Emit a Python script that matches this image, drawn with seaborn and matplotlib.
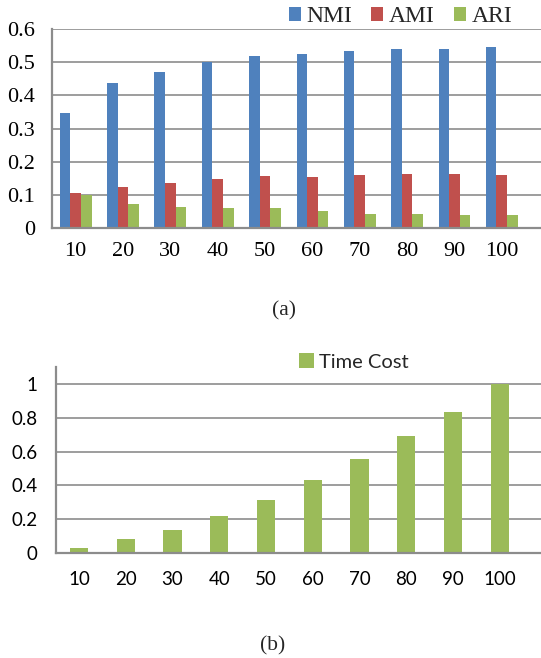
import numpy as np
import pandas as pd
import matplotlib
matplotlib.use('Agg')
import matplotlib.pyplot as plt
import seaborn as sns

# values
sizes = ['10', '20', '30', '40', '50', '60', '70', '80', '90', '100']
nmi = [0.348, 0.436, 0.469, 0.502, 0.520, 0.524, 0.535, 0.541, 0.541, 0.545]
ami = [0.107, 0.123, 0.135, 0.148, 0.156, 0.153, 0.159, 0.163, 0.164, 0.160]
ari = [0.099, 0.072, 0.063, 0.061, 0.059, 0.050, 0.043, 0.043, 0.040, 0.038]
time_cost = [0.031, 0.083, 0.138, 0.220, 0.315, 0.433, 0.557, 0.693, 0.833, 1.0]

metrics = ['NMI', 'AMI', 'ARI']
colors = ['#4F81BD', '#C0504D', '#9BBB59']
grid_col = '#8C8C8C'

df = pd.DataFrame({'size': sizes * 3,
                   'metric': np.repeat(metrics, len(sizes)),
                   'value': nmi + ami + ari})
df_t = pd.DataFrame({'size': sizes, 'Time Cost': time_cost})

sns.set_style('white')
W, H = 541, 658
fig = plt.figure(figsize=(W / 100, H / 100), dpi=100)

def style_axes(ax, fam, size, ypad, xpad):
    ax.grid(axis='y', color=grid_col, linewidth=1.2)
    ax.set_axisbelow(True)
    for s in ['top', 'right']:
        ax.spines[s].set_visible(False)
    for s in ['left', 'bottom']:
        ax.spines[s].set_color(grid_col)
        ax.spines[s].set_linewidth(1.6)
    ax.tick_params(axis='both', length=0, labelsize=size,
                   labelfontfamily=fam, labelcolor='black')
    ax.tick_params(axis='y', pad=ypad)
    ax.tick_params(axis='x', pad=xpad)
    ax.set_xlabel('')
    ax.set_ylabel('')

# (a) quality metrics
ax1 = fig.add_axes([52 / W, 1 - 228 / H, 1 - 52 / W, 199 / H])
sns.barplot(data=df, x='size', y='value', hue='metric', palette=colors,
            width=0.67, gap=0, linewidth=0, saturation=1, ax=ax1)
ax1.set_ylim(0, 0.6)
ax1.set_xlim(-0.5, 9.83)
ax1.set_yticks([0, 0.1, 0.2, 0.3, 0.4, 0.5, 0.6])
ax1.set_yticklabels(['0', '0.1', '0.2', '0.3', '0.4', '0.5', '0.6'])
style_axes(ax1, 'Liberation Serif', 16, 12, 10)
h, l = ax1.get_legend_handles_labels()
ax1.legend(h, l, loc='center left', bbox_to_anchor=(289 / W, 1 - 17 / H),
           bbox_transform=fig.transFigure, ncol=3, frameon=False,
           prop={'family': 'Liberation Serif', 'size': 17},
           handlelength=0.5, handleheight=0.5, handletextpad=0.25,
           columnspacing=0.8, borderpad=0, borderaxespad=0)

# (b) time cost
ax2 = fig.add_axes([55.7 / W, 1 - 553 / H, 1 - 55.7 / W, 186 / H])
sns.barplot(data=df_t, x='size', y='Time Cost', color='#9BBB59',
            width=0.39, linewidth=0, saturation=1, label='Time Cost', ax=ax2)
ax2.set_ylim(0, 1.1)
ax2.set_xlim(-0.5, 9.88)
ax2.set_yticks([0, 0.2, 0.4, 0.6, 0.8, 1.0])
ax2.set_yticklabels(['0', '0.2', '0.4', '0.6', '0.8', '1'])
style_axes(ax2, 'Lato', 13.5, 13, 13)
h, l = ax2.get_legend_handles_labels()
ax2.legend(h, l, loc='center left', bbox_to_anchor=(299 / W, 1 - 362 / H),
           bbox_transform=fig.transFigure, frameon=False,
           prop={'family': 'Lato', 'size': 14.5},
           handlelength=0.72, handleheight=0.72, handletextpad=0.26,
           borderpad=0, borderaxespad=0)

fig.text(284 / W, 1 - 311 / H, '(a)', ha='center', va='center',
         family='Liberation Serif', fontsize=15.5)
fig.text(273 / W, 1 - 646 / H, '(b)', ha='center', va='center',
         family='Liberation Serif', fontsize=15.5)

fig.savefig('out.png', dpi=100)
